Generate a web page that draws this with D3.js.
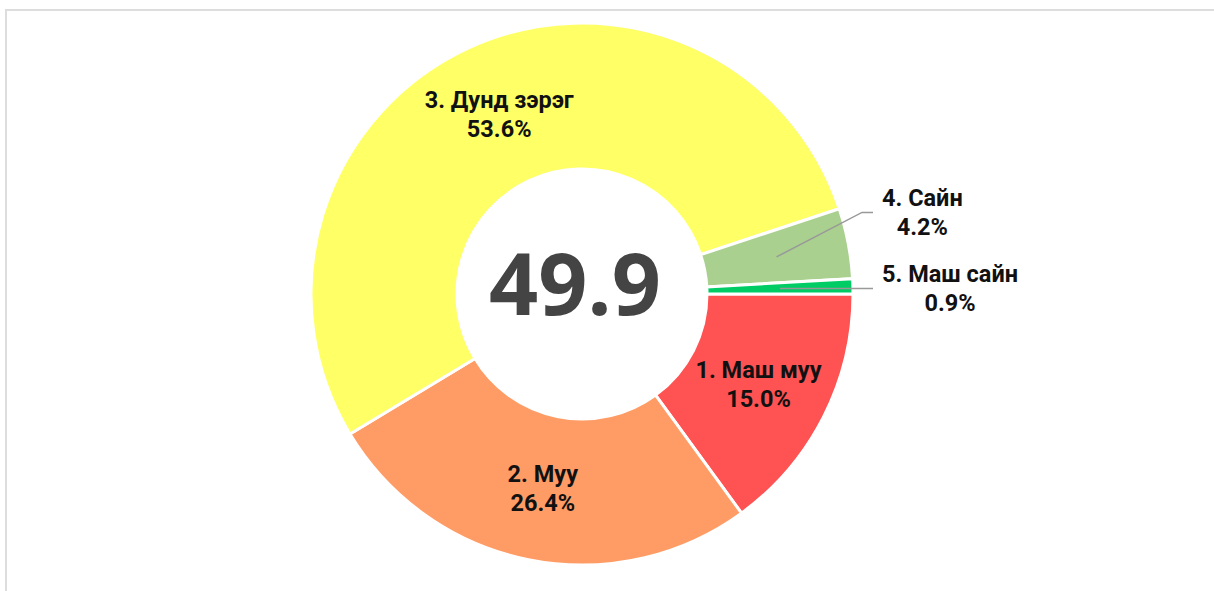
<!DOCTYPE html>
<html>
<head>
<meta charset="utf-8">
<script src="https://cdn.jsdelivr.net/npm/d3@7"></script>
<style>
  html, body { margin: 0; padding: 0; background: #fff; overflow: hidden; }
  #frame {
    position: absolute; left: 5px; top: 9px;
    width: 1300px; height: 700px;
    border-top: 2px solid #ddd; border-left: 2px solid #ddd;
  }
  #chart { position: absolute; left: 0; top: 0; }
</style>
</head>
<body>
<div id="frame"></div>
<svg id="chart" width="1214" height="591"></svg>
<script>
// data
const categories = ["1. Маш муу", "2. Муу", "3. Дунд зэрэг", "4. Сайн", "5. Маш сайн"];
const shares = [15.0, 26.4, 53.6, 4.2, 0.9];
const colors = ["#ff5252", "#ff9c66", "#ffff66", "#a9d08e", "#00cc66"];
const centerValue = "49.9";

const width = 1214, height = 591;
const cx = 582, cy = 294;
const outerR = 271, innerR = 125;

const svg = d3.select("#chart");
const g = svg.append("g").attr("transform", `translate(${cx},${cy})`);

const data = categories.map((c, i) => ({ name: c, value: shares[i], color: colors[i] }));

const pie = d3.pie()
  .value(d => d.value)
  .sort(null)
  .startAngle(Math.PI / 2)
  .endAngle(Math.PI / 2 + 2 * Math.PI);

const arcs = pie(data);
const arc = d3.arc().innerRadius(innerR).outerRadius(outerR);
const labelArc = d3.arc().innerRadius(125).outerRadius(271); // centroid ~ r 198

g.selectAll("path")
  .data(arcs)
  .join("path")
  .attr("d", arc)
  .attr("fill", d => d.data.color)
  .attr("stroke", "white")
  .style("stroke-width", "3px");

// center value
g.append("text")
  .attr("x", -7)
  .attr("y", -10)
  .attr("dy", "0.36em")
  .attr("text-anchor", "middle")
  .style("font-family", "'Open Sans', 'Noto Sans', sans-serif")
  .style("font-weight", "700")
  .style("font-size", "86px")
  .style("fill", "#444")
  .text(centerValue);

const fmt = d3.format(".1f");
const lineGap = 29;
const labelFont = "23.5px";

// inside labels for large slices
const inside = arcs.filter(d => d.data.value >= 5);
const inner = g.selectAll("g.inlabel")
  .data(inside)
  .join("g")
  .attr("class", "inlabel")
  .attr("transform", d => `translate(${labelArc.centroid(d)})`);

inner.append("text")
  .attr("text-anchor", "middle")
  .style("font-family", "Roboto, sans-serif")
  .style("font-weight", "700")
  .style("font-size", labelFont)
  .style("fill", "#111")
  .selectAll("tspan")
  .data(d => [d.data.name, fmt(d.data.value) + "%"])
  .join("tspan")
  .attr("x", 0)
  .attr("y", (t, i) => (i - 0.5) * lineGap)
  .attr("dy", "0.35em")
  .text(t => t);

// outside labels for small slices, with leader lines
const outside = arcs.filter(d => d.data.value < 5).map(d => {
  const c = labelArc.centroid(d);
  return { d, c, y: c[1] };
});
// push labels apart (bottom one stays, upper ones move up)
outside.sort((a, b) => b.y - a.y);
const minGap = 76;
for (let i = 1; i < outside.length; i++) {
  if (outside[i - 1].y - outside[i].y < minGap) outside[i].y = outside[i - 1].y - minGap;
}
const elbowX = outerR + 9, endX = outerR + 20, textX = outerR + 29;

g.selectAll("polyline.leader")
  .data(outside)
  .join("polyline")
  .attr("class", "leader")
  .attr("points", o => [o.c, [elbowX, o.y], [endX, o.y]].map(p => p.join(",")).join(" "))
  .attr("fill", "none")
  .attr("stroke", "#999")
  .attr("stroke-width", 1.5);

const outer = g.selectAll("g.outlabel")
  .data(outside)
  .join("g")
  .attr("class", "outlabel")
  .attr("transform", o => `translate(${textX},${o.y})`);

outer.each(function (o) {
  const t = d3.select(this).append("text")
    .attr("text-anchor", "middle")
    .style("font-family", "Roboto, sans-serif")
    .style("font-weight", "700")
    .style("font-size", labelFont)
    .style("fill", "#111");
  t.selectAll("tspan")
    .data([o.d.data.name, fmt(o.d.data.value) + "%"])
    .join("tspan")
    .attr("y", (s, i) => (i - 0.5) * lineGap)
    .attr("dy", "0.35em")
    .text(s => s);
  // centre both lines on the widest line, whose left edge sits at textX
  const w = d3.max(t.selectAll("tspan").nodes(), n => n.getComputedTextLength());
  t.selectAll("tspan").attr("x", w / 2);
});
</script>
</body>
</html>
